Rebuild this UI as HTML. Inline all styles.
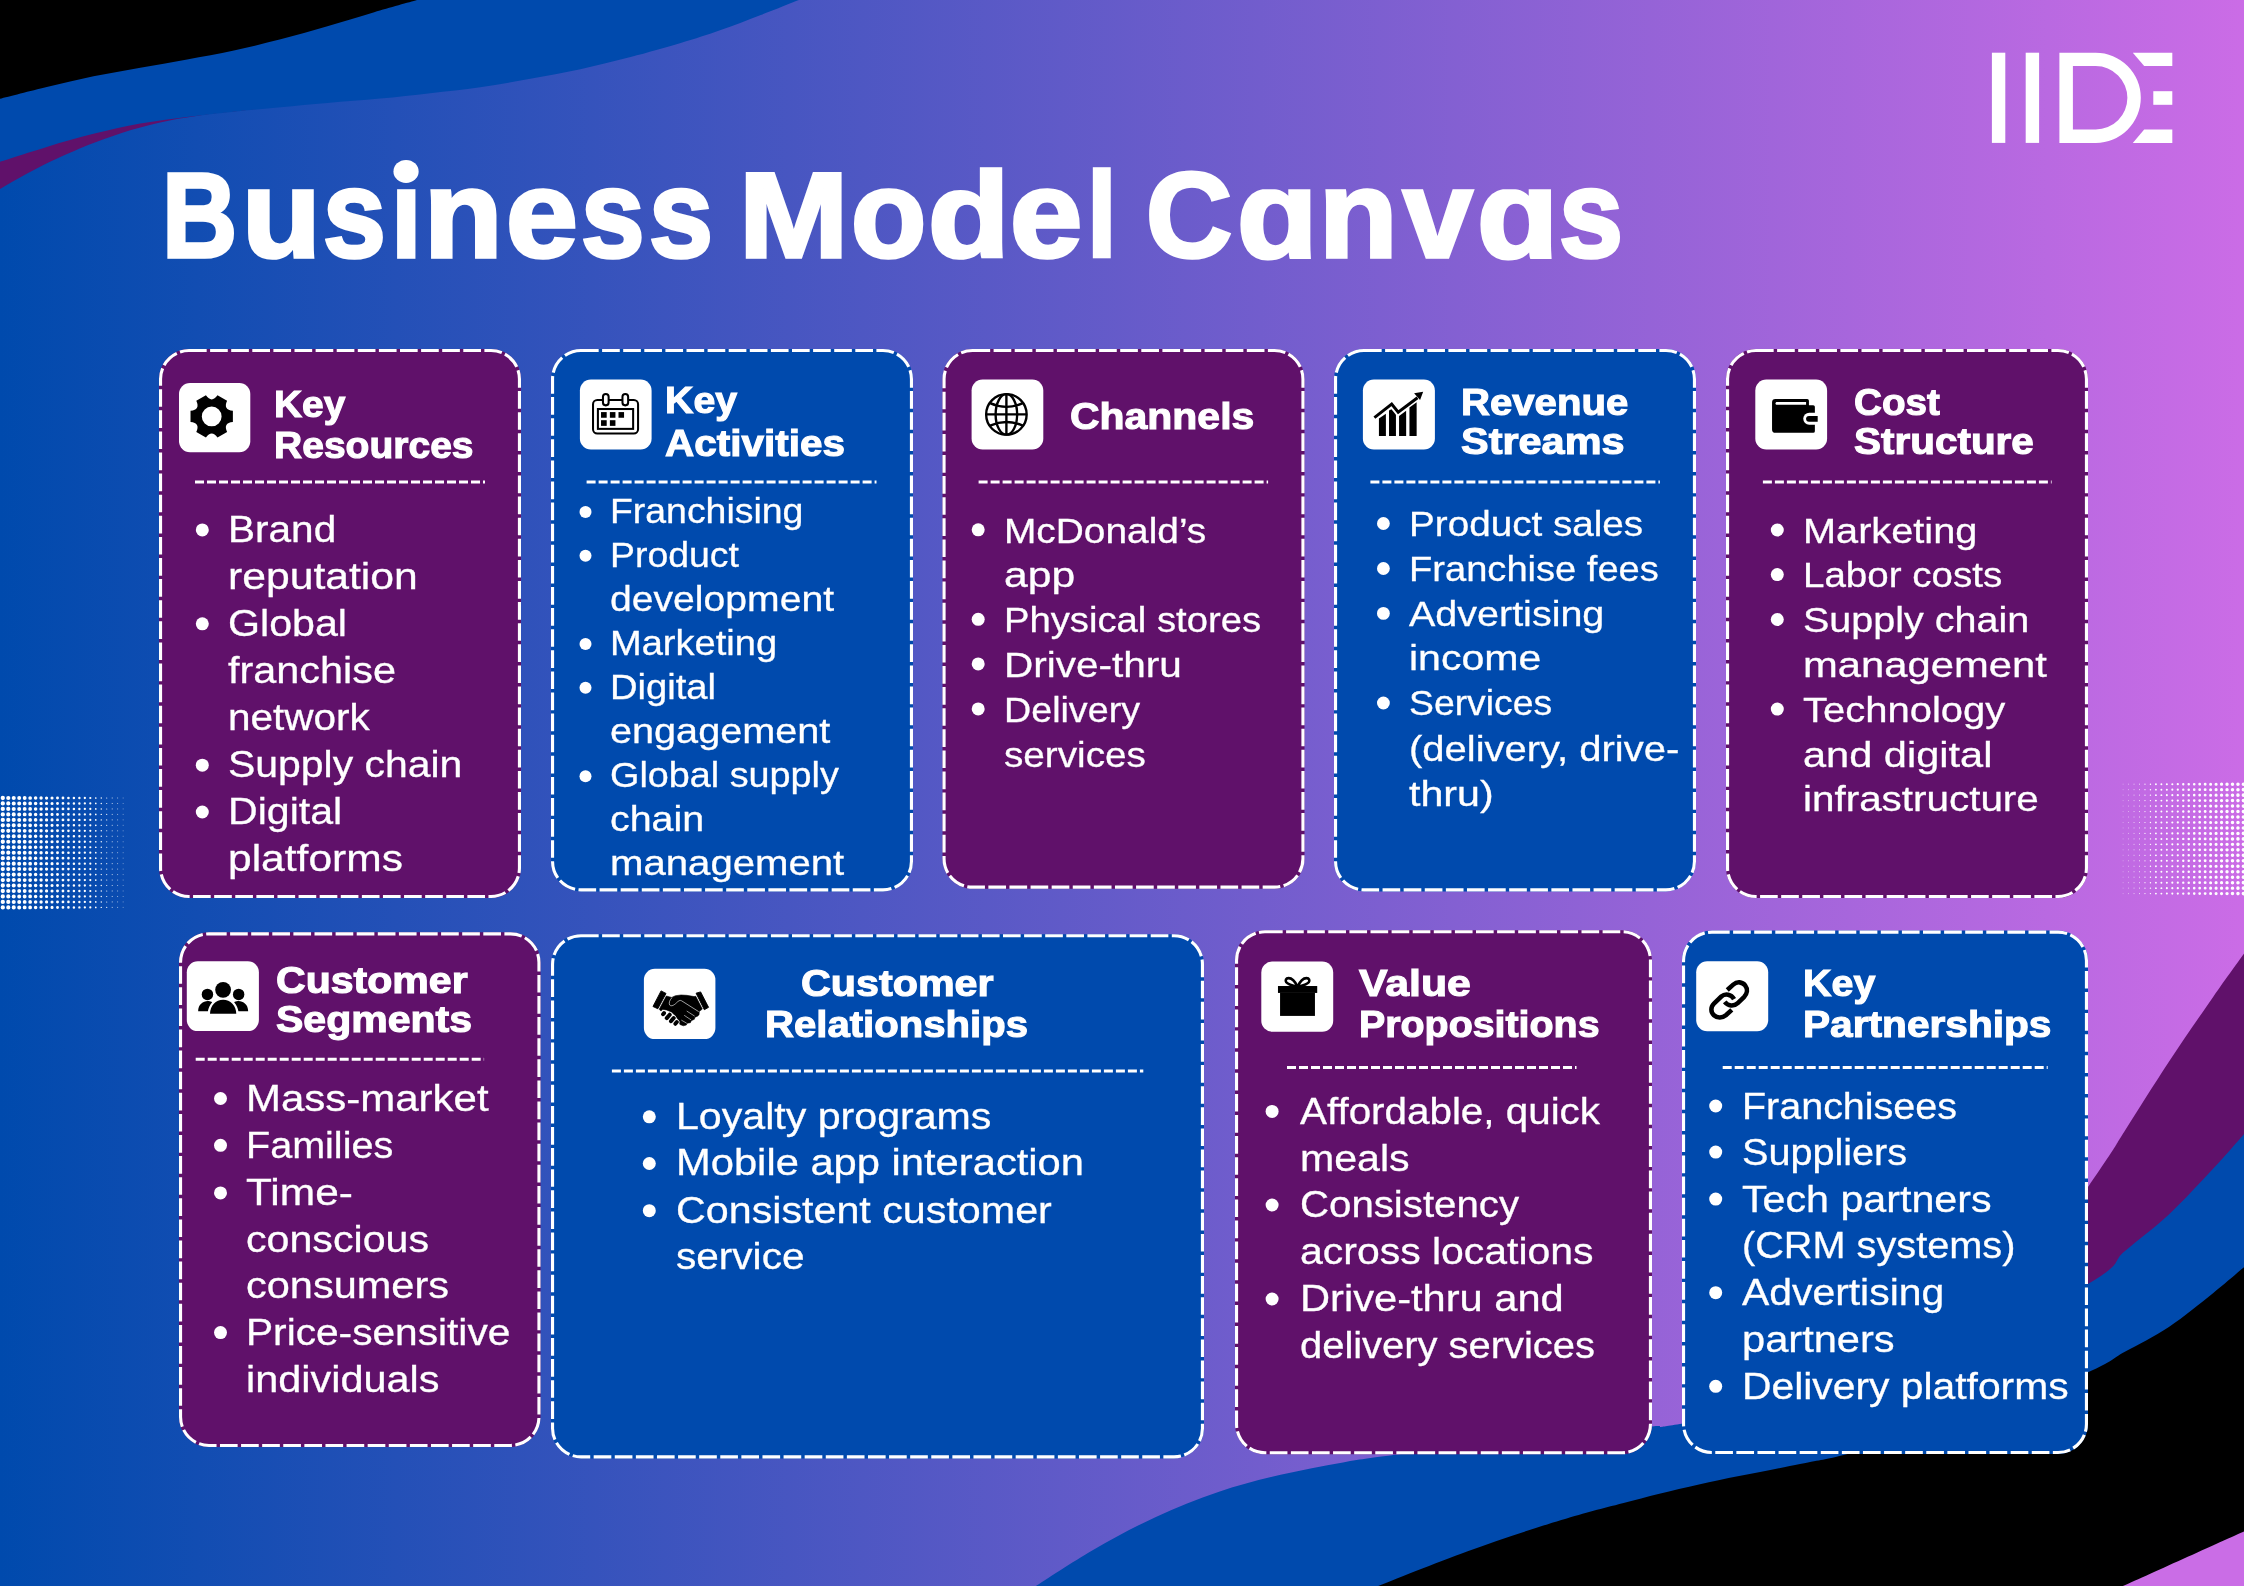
<!DOCTYPE html>
<html lang="en"><head><meta charset="utf-8"><title>Business Model Canvas</title>
<style>
html,body{margin:0;padding:0;background:#fff}
#page{width:2245px;height:1587px;position:relative;overflow:hidden;background:#fff;font-family:"Liberation Sans",sans-serif}
#g{position:absolute;left:0;top:0;display:block}
.t{position:absolute;white-space:nowrap;color:#fff;line-height:normal;transform-origin:0 0;font-weight:normal;margin:0;padding:0}
.t.b{font-weight:bold}
#txt{position:absolute;left:0;top:0;width:2245px;height:1587px;will-change:transform}
#ttl{position:absolute;left:165px;top:150px;margin:0;font-size:121px;line-height:1;white-space:nowrap;color:transparent;opacity:0}
</style></head><body>
<div id="page">
<svg id="g" width="2245" height="1587" viewBox="0 0 2245 1587">
<defs><linearGradient id="bg" x1="0" y1="0" x2="1" y2="0"><stop offset="0" stop-color="#004aad"/><stop offset="1" stop-color="#cb6ce6"/></linearGradient></defs>
<rect width="2245" height="1587" fill="url(#bg)"/>
<path d="M0,0 L260,108.5 C254.1,109.1 233.5,111.3 224.5,112.3 C215.5,113.3 215.2,113.1 205.8,114.5 C196.5,115.9 180.9,118.1 168.4,120.7 C155.9,123.3 143.5,126.3 131.0,130.0 C118.5,133.7 106.0,138.3 93.5,143.1 C81.0,147.9 67.0,154.0 56.1,159.0 C45.2,164.0 37.5,168.1 28.1,173.1 C18.8,178.1 4.7,186.3 0.0,189.0  L0,0 Z" fill="#60116a"/>
<path d="M0,0 L798.9,0 C792.5,2.5 773.8,10.0 760.8,15.0 C747.8,20.0 734.1,25.4 720.7,30.1 C707.4,34.8 695.7,38.6 680.7,43.1 C665.7,47.6 647.3,52.8 630.6,57.1 C613.9,61.5 597.1,65.6 580.4,69.2 C563.7,72.8 547.0,75.8 530.3,78.8 C513.6,81.8 496.9,84.8 480.2,87.2 C463.5,89.6 446.8,91.3 430.1,93.2 C413.4,95.1 397.1,97.0 380.0,98.6 C362.9,100.2 344.0,101.5 327.4,102.9 C310.8,104.3 296.2,105.7 280.6,107.2 C265.0,108.7 249.5,110.1 233.9,111.7 C218.3,113.3 202.7,114.9 187.1,116.9 C171.5,118.9 155.9,120.7 140.3,123.5 C124.7,126.3 109.1,129.9 93.5,133.8 C77.9,137.7 62.4,142.2 46.8,146.9 C31.2,151.6 7.8,159.3 0.0,161.8  L0,0 Z" fill="#004aad"/>
<path d="M0,0 L417,0 C409.9,2.0 389.1,7.8 374.2,12.2 C359.3,16.6 343.0,21.7 327.4,26.2 C311.8,30.7 296.2,35.2 280.6,39.3 C265.0,43.3 249.5,47.1 233.9,50.5 C218.3,53.9 202.7,56.6 187.1,59.5 C171.5,62.4 155.9,64.9 140.3,67.7 C124.7,70.5 109.1,73.1 93.5,76.3 C77.9,79.5 62.4,83.2 46.8,87.0 C31.2,90.8 7.8,96.8 0.0,98.8  L0,0 Z" fill="#000"/>
<path d="M1900,1460 C1931.3,1414.5 2050.6,1241.9 2088.0,1187.1 C2125.4,1132.3 2110.9,1152.3 2124.4,1131.4 C2137.9,1110.5 2154.1,1084.2 2168.9,1061.8 C2183.7,1039.3 2200.6,1015.0 2213.3,996.7 C2226.0,978.4 2239.7,959.6 2245.0,952.2  L2245,1587 L1900,1587 Z" fill="#60116a"/>
<path d="M1034.3,1587 C1044.2,1580.8 1073.2,1561.4 1093.5,1549.7 C1113.8,1538.0 1135.1,1526.5 1155.9,1516.9 C1176.7,1507.3 1197.5,1499.0 1218.3,1492.0 C1239.1,1485.0 1259.8,1479.7 1280.6,1474.8 C1301.4,1469.9 1322.2,1465.9 1343.0,1462.4 C1363.8,1458.9 1370.1,1458.1 1405.4,1453.6 C1440.7,1449.1 1513.5,1440.0 1554.6,1435.5 C1595.6,1431.0 1630.3,1428.5 1651.7,1426.5 C1673.1,1424.5 1641.5,1430.3 1682.9,1423.4 C1724.3,1416.5 1832.5,1408.2 1900.0,1385.0 C1967.5,1361.8 2050.6,1306.3 2088.0,1284.0 C2125.4,1261.7 2110.9,1263.0 2124.4,1251.4 C2137.9,1239.8 2154.1,1228.2 2168.9,1214.4 C2183.7,1200.6 2200.6,1182.1 2213.3,1168.5 C2226.0,1154.9 2239.7,1138.8 2245.0,1132.9  L2245,1587 Z" fill="#004aad"/>
<path d="M1375.7,1587 C1391.0,1581.0 1436.8,1562.4 1467.7,1551.2 C1498.6,1540.0 1535.3,1528.0 1561.3,1520.0 C1587.3,1512.0 1600.5,1508.9 1623.6,1502.9 C1646.7,1496.9 1670.6,1490.7 1700.0,1484.2 C1729.4,1477.7 1775.2,1469.2 1800.0,1464.1 C1824.8,1459.0 1820.3,1461.1 1848.6,1453.8 C1876.9,1446.5 1930.1,1433.6 1970.0,1420.0 C2009.9,1406.4 2062.3,1383.6 2088.0,1372.3 C2113.7,1361.0 2110.9,1359.7 2124.4,1352.1 C2137.9,1344.5 2154.1,1336.8 2168.9,1326.9 C2183.7,1317.0 2200.6,1303.0 2213.3,1292.9 C2226.0,1282.8 2239.7,1270.7 2245.0,1266.2  L2245,1587 Z" fill="#000"/>
<path d="M2121,1587 C2141.7,1577.7 2224.3,1540.3 2245.0,1531.0  L2245,1587 Z" fill="#ca6de6"/>
<g stroke="#fff" stroke-linecap="round" stroke-dasharray="0 5.47" fill="none"><path d="M2.8,798 v109.41" stroke-width="4.3"/><path d="M8.27,798 v109.41" stroke-width="4.2"/><path d="M13.74,798 v109.41" stroke-width="4.1"/><path d="M19.21,798 v109.41" stroke-width="4"/><path d="M24.68,798 v109.41" stroke-width="3.85"/><path d="M30.15,798 v109.41" stroke-width="3.7"/><path d="M35.62,798 v109.41" stroke-width="3.55"/><path d="M41.09,798 v109.41" stroke-width="3.4"/><path d="M46.56,798 v109.41" stroke-width="3.25"/><path d="M52.03,798 v109.41" stroke-width="3.1"/><path d="M57.5,798 v109.41" stroke-width="2.95"/><path d="M62.97,798 v109.41" stroke-width="2.8"/><path d="M68.44,798 v109.41" stroke-width="2.65"/><path d="M73.91,798 v109.41" stroke-width="2.5"/><path d="M79.38,798 v109.41" stroke-width="2.4"/><path d="M84.85,798 v109.41" stroke-width="2.3"/><path d="M90.32,798 v109.41" stroke-width="2.2"/><path d="M95.79,798 v109.41" stroke-width="1.7"/><path d="M101.26,798 v109.41" stroke-width="1.4"/><path d="M106.73,798 v109.41" stroke-width="1.1"/><path d="M112.2,798 v109.41" stroke-width="0.9"/><path d="M117.67,798 v109.41" stroke-width="0.7"/><path d="M123.14,798 v109.41" stroke-width="0.5"/></g>
<g stroke="#fff" stroke-linecap="round" stroke-dasharray="0 5.47" fill="none"><path d="M2123.1,784.2 v109.41" stroke-width="0.42"/><path d="M2128.57,784.2 v109.41" stroke-width="0.59"/><path d="M2134.04,784.2 v109.41" stroke-width="0.77"/><path d="M2139.51,784.2 v109.41" stroke-width="0.94"/><path d="M2144.98,784.2 v109.41" stroke-width="1.19"/><path d="M2150.45,784.2 v109.41" stroke-width="1.44"/><path d="M2155.92,784.2 v109.41" stroke-width="1.87"/><path d="M2161.39,784.2 v109.41" stroke-width="1.95"/><path d="M2166.86,784.2 v109.41" stroke-width="2.04"/><path d="M2172.33,784.2 v109.41" stroke-width="2.12"/><path d="M2177.8,784.2 v109.41" stroke-width="2.25"/><path d="M2183.27,784.2 v109.41" stroke-width="2.38"/><path d="M2188.74,784.2 v109.41" stroke-width="2.51"/><path d="M2194.21,784.2 v109.41" stroke-width="2.63"/><path d="M2199.68,784.2 v109.41" stroke-width="2.76"/><path d="M2205.15,784.2 v109.41" stroke-width="2.89"/><path d="M2210.62,784.2 v109.41" stroke-width="3.02"/><path d="M2216.09,784.2 v109.41" stroke-width="3.15"/><path d="M2221.56,784.2 v109.41" stroke-width="3.27"/><path d="M2227.03,784.2 v109.41" stroke-width="3.4"/><path d="M2232.5,784.2 v109.41" stroke-width="3.48"/><path d="M2237.97,784.2 v109.41" stroke-width="3.57"/><path d="M2243.44,784.2 v109.41" stroke-width="3.65"/></g>
<g fill="#fff"><ellipse cx="406.05" cy="171.4" rx="12.6" ry="11.5"/><rect x="1991.9" y="52.7" width="13.4" height="90.2"/><rect x="2025.7" y="52.7" width="13.4" height="90.2"/><path fill-rule="evenodd" d="M2059.4,52.7 H2095.7 A45.1,45.1 0 0 1 2095.7,142.9 H2059.4 Z M2072.9,66.1 V129.5 H2095.7 A31.7,31.7 0 0 0 2095.7,66.1 Z"/><path d="M2132.8,52.7 H2172.3 V66.1 H2144.2 Z"/><rect x="2153.3" y="91.2" width="19" height="13.6"/><path d="M2144.2,129.6 H2172.3 V142.9 H2132.8 Z"/></g>
<rect x="159" y="349" width="362" height="549" rx="30" fill="#60116a"/>
<rect x="160.55" y="350.55" width="358.9" height="545.9" rx="28.45" fill="none" stroke="#fff" stroke-width="3.1" stroke-dasharray="17.67 3.43" stroke-dashoffset="0"/>
<rect x="179" y="383" width="71.3" height="69.3" rx="11" fill="#fff"/>
<path d="M195,482 H485" stroke="#fff" stroke-width="3" stroke-dasharray="9 3" fill="none"/>
<circle cx="202.3" cy="529.9" r="6.5" fill="#fff"/>
<circle cx="202.3" cy="623.8" r="6.5" fill="#fff"/>
<circle cx="202.3" cy="765.2" r="6.5" fill="#fff"/>
<circle cx="202.3" cy="812" r="6.5" fill="#fff"/>
<rect x="551" y="349" width="362" height="542.4" rx="30" fill="#004aad"/>
<rect x="552.55" y="350.55" width="358.9" height="539.3" rx="28.45" fill="none" stroke="#fff" stroke-width="3.1" stroke-dasharray="17.67 3.43" stroke-dashoffset="0"/>
<rect x="579.9" y="379.6" width="71.7" height="69.8" rx="11" fill="#fff"/>
<path d="M586.6,482 H876.5" stroke="#fff" stroke-width="3" stroke-dasharray="9 3" fill="none"/>
<circle cx="585.5" cy="511.9" r="6" fill="#fff"/>
<circle cx="585.5" cy="555.8" r="6" fill="#fff"/>
<circle cx="585.5" cy="643.9" r="6" fill="#fff"/>
<circle cx="585.5" cy="687.7" r="6" fill="#fff"/>
<circle cx="585.5" cy="776.2" r="6" fill="#fff"/>
<rect x="942.5" y="349" width="362" height="539.7" rx="30" fill="#60116a"/>
<rect x="944.05" y="350.55" width="358.9" height="536.6" rx="28.45" fill="none" stroke="#fff" stroke-width="3.1" stroke-dasharray="17.67 3.43" stroke-dashoffset="0"/>
<rect x="971.6" y="379.6" width="71.7" height="69.8" rx="11" fill="#fff"/>
<path d="M978.6,482 H1268.1" stroke="#fff" stroke-width="3" stroke-dasharray="9 3" fill="none"/>
<circle cx="978.2" cy="529.8" r="6.5" fill="#fff"/>
<circle cx="978.2" cy="619.3" r="6.5" fill="#fff"/>
<circle cx="978.2" cy="663.9" r="6.5" fill="#fff"/>
<circle cx="978.2" cy="708.9" r="6.5" fill="#fff"/>
<rect x="1334" y="349" width="362" height="542.4" rx="30" fill="#004aad"/>
<rect x="1335.55" y="350.55" width="358.9" height="539.3" rx="28.45" fill="none" stroke="#fff" stroke-width="3.1" stroke-dasharray="17.67 3.43" stroke-dashoffset="0"/>
<rect x="1362.9" y="379.6" width="72" height="69.8" rx="11" fill="#fff"/>
<path d="M1370.4,482 H1659.9" stroke="#fff" stroke-width="3" stroke-dasharray="9 3" fill="none"/>
<circle cx="1383.4" cy="523.5" r="6.4" fill="#fff"/>
<circle cx="1383.4" cy="568.5" r="6.4" fill="#fff"/>
<circle cx="1383.4" cy="613.4" r="6.4" fill="#fff"/>
<circle cx="1383.4" cy="703" r="6.4" fill="#fff"/>
<rect x="1726" y="349" width="362" height="549" rx="30" fill="#60116a"/>
<rect x="1727.55" y="350.55" width="358.9" height="545.9" rx="28.45" fill="none" stroke="#fff" stroke-width="3.1" stroke-dasharray="17.67 3.43" stroke-dashoffset="0"/>
<rect x="1755.3" y="379.6" width="71.8" height="69.8" rx="11" fill="#fff"/>
<path d="M1762.9,482 H2051.6" stroke="#fff" stroke-width="3" stroke-dasharray="9 3" fill="none"/>
<circle cx="1777.3" cy="530" r="6.5" fill="#fff"/>
<circle cx="1777.3" cy="574.6" r="6.5" fill="#fff"/>
<circle cx="1777.3" cy="619.5" r="6.5" fill="#fff"/>
<circle cx="1777.3" cy="709.1" r="6.5" fill="#fff"/>
<rect x="179" y="932.3" width="361.5" height="514.7" rx="30" fill="#60116a"/>
<rect x="180.55" y="933.85" width="358.4" height="511.6" rx="28.45" fill="none" stroke="#fff" stroke-width="3.1" stroke-dasharray="17.67 3.43" stroke-dashoffset="0"/>
<rect x="186.8" y="961.2" width="72.1" height="69.9" rx="11" fill="#fff"/>
<path d="M195.7,1059.2 H484.1" stroke="#fff" stroke-width="3" stroke-dasharray="9 3" fill="none"/>
<circle cx="220.5" cy="1098.5" r="6.5" fill="#fff"/>
<circle cx="220.5" cy="1145.3" r="6.5" fill="#fff"/>
<circle cx="220.5" cy="1192.9" r="6.5" fill="#fff"/>
<circle cx="220.5" cy="1332.6" r="6.5" fill="#fff"/>
<rect x="551" y="934.2" width="653" height="524.2" rx="30" fill="#004aad"/>
<rect x="552.55" y="935.75" width="649.9" height="521.1" rx="28.45" fill="none" stroke="#fff" stroke-width="3.1" stroke-dasharray="17.67 3.43" stroke-dashoffset="0"/>
<rect x="643.9" y="968.8" width="71.5" height="70.3" rx="11" fill="#fff"/>
<path d="M611.9,1071.1 H1143.3" stroke="#fff" stroke-width="3" stroke-dasharray="9 3" fill="none"/>
<circle cx="649.3" cy="1116.8" r="6.5" fill="#fff"/>
<circle cx="649.3" cy="1163.5" r="6.5" fill="#fff"/>
<circle cx="649.3" cy="1210.7" r="6.5" fill="#fff"/>
<rect x="1235" y="930.2" width="417" height="524.1" rx="30" fill="#60116a"/>
<rect x="1236.55" y="931.75" width="413.9" height="521" rx="28.45" fill="none" stroke="#fff" stroke-width="3.1" stroke-dasharray="17.67 3.43" stroke-dashoffset="0"/>
<rect x="1261.3" y="961.6" width="71.9" height="70.1" rx="11" fill="#fff"/>
<path d="M1287,1067.4 H1576.5" stroke="#fff" stroke-width="3" stroke-dasharray="9 3" fill="none"/>
<circle cx="1272.1" cy="1111.4" r="6.5" fill="#fff"/>
<circle cx="1272.1" cy="1205" r="6.5" fill="#fff"/>
<circle cx="1272.1" cy="1299" r="6.5" fill="#fff"/>
<rect x="1682" y="930.6" width="406" height="523.5" rx="30" fill="#004aad"/>
<rect x="1683.55" y="932.15" width="402.9" height="520.4" rx="28.45" fill="none" stroke="#fff" stroke-width="3.1" stroke-dasharray="17.67 3.43" stroke-dashoffset="0"/>
<rect x="1696.2" y="961.3" width="72" height="69.9" rx="11" fill="#fff"/>
<path d="M1722.7,1067.4 H2047.7" stroke="#fff" stroke-width="3" stroke-dasharray="9 3" fill="none"/>
<circle cx="1715.7" cy="1106" r="6.5" fill="#fff"/>
<circle cx="1715.7" cy="1152.1" r="6.5" fill="#fff"/>
<circle cx="1715.7" cy="1199.1" r="6.5" fill="#fff"/>
<circle cx="1715.7" cy="1292.7" r="6.5" fill="#fff"/>
<circle cx="1715.7" cy="1386.3" r="6.5" fill="#fff"/>
<path fill-rule="evenodd" d="M232.88,410.84 L232.88,421.96 Q222.87,422.85 227.10,431.97 L217.48,437.52 Q211.70,429.30 205.92,437.52 L196.30,431.97 Q200.53,422.85 190.52,421.96 L190.52,410.84 Q200.53,409.95 196.30,400.83 L205.92,395.28 Q211.70,403.50 217.48,395.28 L227.10,400.83 Q222.87,409.95 232.88,410.84 Z M201.80,416.40 a9.90,9.90 0 1 0 19.80,0 a9.90,9.90 0 1 0 -19.80,0 Z" fill="#000"/><g transform="translate(570,370) scale(0.056721)" fill="none" stroke="#000" stroke-width="36"><rect x="406" y="528" width="794" height="590" rx="75"/><rect x="492" y="688" width="621" height="350"/><rect x="581" y="422" width="100" height="202" rx="50" fill="#fff"/><rect x="925" y="422" width="100" height="202" rx="50" fill="#fff"/><g fill="#000" stroke="none"><rect x="547" y="742" width="100" height="100"/><rect x="703" y="742" width="98" height="100"/><rect x="855" y="742" width="98" height="100"/><rect x="547" y="885" width="100" height="100"/><rect x="703" y="885" width="98" height="100"/></g></g><g transform="translate(960,370) scale(0.056721)" fill="none" stroke="#000" stroke-width="42"><circle cx="818" cy="783" r="357"/><ellipse cx="818" cy="783" rx="190" ry="357"/><path d="M818,426 V1140 M461,783 H1175"/><path d="M530,585 Q818,715 1108,585"/><path d="M530,980 Q818,855 1108,980"/></g><g transform="translate(1350,370) scale(0.056721)" fill="#000" stroke="none"><path d="M510,855 L633,770 V1162 H510 Z"/><path d="M688,715 L730,690 L810,790 V1162 H688 Z"/><path d="M865,810 L990,720 V1162 H865 Z"/><path d="M1048,660 L1175,570 V1162 H1048 Z"/><path d="M430,840 L735,600 L850,745 L1190,490" fill="none" stroke="#000" stroke-width="52" stroke-linejoin="miter"/><path d="M1290,385 L1130,410 L1235,530 Z"/></g><g transform="translate(1740,370) scale(0.056721)" fill="#000" stroke="none"><path d="M625,510 H1185 Q1215,510 1215,540 V620 H1290 Q1320,620 1320,650 V1078 Q1320,1108 1290,1108 H625 Q565,1108 565,1048 V570 Q565,510 625,510 Z"/><path d="M640,565 H1165 V612 H640 Q610,590 640,565 Z" fill="#fff"/><path d="M1330,755 H1220 A105,105 0 0 0 1220,965 H1330 Z" fill="#fff"/><path d="M1370,810 H1216 A51,51 0 0 0 1216,912 H1370 Z"/></g><g transform="translate(175,950) scale(0.056721)" fill="#000" stroke="none"><circle cx="572" cy="783" r="101"/><circle cx="1122" cy="783" r="101"/><path d="M408,1080 C408,960 500,895 590,900 C620,902 640,910 655,920 C610,970 590,1030 580,1080 Z"/><path d="M1290,1080 C1290,960 1198,895 1108,900 C1078,902 1058,910 1043,920 C1088,970 1108,1030 1118,1080 Z"/><circle cx="848" cy="703" r="139" stroke="#fff" stroke-width="40" paint-order="stroke"/><path d="M617,1125 C617,980 720,875 848,875 C976,875 1080,980 1080,1125 Z" stroke="#fff" stroke-width="40" paint-order="stroke"/><rect x="580" y="1128" width="540" height="40" fill="#fff"/></g><g transform="translate(630,958) scale(0.056721)" fill="#000" stroke="none"><path d="M548,580 L635,625 L490,895 L405,855 Z" stroke="#000" stroke-width="16" stroke-linejoin="round"/><path d="M1165,620 L1245,598 L1385,870 L1310,912 Z" stroke="#000" stroke-width="16" stroke-linejoin="round"/><path d="M640,670 L735,695 L800,665 L900,652 L1000,658 L1130,680 L1160,675 L1275,900 L1220,945 L1218,1000 L1190,1025 L1145,1045 L1135,1080 L1080,1105 L1065,1140 L1005,1150 L995,1180 L940,1195 L880,1172 L865,1110 L800,1020 L730,950 L640,915 L575,910 L545,935 L515,905 Z" stroke="#000" stroke-width="10" stroke-linejoin="round"/><path d="M740,700 C700,740 680,790 700,830 C730,860 780,830 820,790 C850,760 880,735 910,755 L1210,945" fill="none" stroke="#fff" stroke-width="11"/><path d="M1000,935 L1140,1025 M955,1010 L1075,1090 M905,1095 L1000,1150" fill="none" stroke="#fff" stroke-width="10"/><g fill="none" stroke-linecap="round"><path d="M583,992 L600,972 M648,1060 L700,1000 M722,1115 L770,1058 M800,1160 L825,1130" stroke="#fff" stroke-width="92"/><path d="M583,992 L600,972 M648,1060 L700,1000 M722,1115 L770,1058 M800,1160 L825,1130" stroke="#000" stroke-width="70"/></g></g><g transform="translate(1250,950) scale(0.056721)" fill="#000" stroke="none"><rect x="493" y="635" width="692" height="122"/><rect x="530" y="757" width="615" height="405"/><path d="M838,650 C790,540 740,495 680,495 C630,495 620,540 640,570 C670,610 750,630 838,650 Z M838,650 C886,540 936,495 996,495 C1046,495 1056,540 1036,570 C1006,610 926,630 838,650 Z" fill="none" stroke="#000" stroke-width="46" stroke-linejoin="round"/></g><g transform="translate(1685,950) scale(0.056721)" fill="none" stroke="#000" stroke-width="80"><path d="M745,705 L850,610 C920,550 1010,560 1060,625 C1110,690 1100,770 1040,830 L930,935 C860,1000 760,990 700,915"/><path d="M865,865 C815,780 710,760 640,820 L510,945 C450,1005 450,1095 510,1150 C570,1205 660,1200 720,1150 L825,1055"/></g>
<rect x="2244" y="0" width="1" height="1587" fill="#fff"/>
<rect x="0" y="1586" width="2245" height="1" fill="#fff"/>
</svg>
<h1 id="ttl">Business Model Canvas</h1>
<div id="txt">
<div class="t b" style="left:162.19px;top:145.2px;font-size:121px;transform:scaleX(0.8608);-webkit-text-stroke:3.6px #fff">B</div>
<div class="t b" style="left:241.95px;top:145.2px;font-size:121px;transform-origin:0 112px;transform:scale(1.0661,1.0300);-webkit-text-stroke:3.6px #fff">u</div>
<div class="t b" style="left:323.27px;top:145.2px;font-size:121px;transform-origin:0 112px;transform:scale(0.9333,1.0300);-webkit-text-stroke:3.6px #fff">s</div>
<div class="t b" style="left:390.66px;top:145.2px;font-size:121px;transform-origin:0 112px;transform:scale(0.9045,1.0300);-webkit-text-stroke:3.6px #fff">ı</div>
<div class="t b" style="left:424.27px;top:145.2px;font-size:121px;transform-origin:0 112px;transform:scale(1.0620,1.0300);-webkit-text-stroke:3.6px #fff">n</div>
<div class="t b" style="left:505.86px;top:145.2px;font-size:121px;transform-origin:0 112px;transform:scale(1.0678,1.0300);-webkit-text-stroke:3.6px #fff">e</div>
<div class="t b" style="left:581.33px;top:145.2px;font-size:121px;transform-origin:0 112px;transform:scale(0.9452,1.0300);-webkit-text-stroke:3.6px #fff">s</div>
<div class="t b" style="left:648.65px;top:145.2px;font-size:121px;transform-origin:0 112px;transform:scale(0.9521,1.0300);-webkit-text-stroke:3.6px #fff">s</div>
<div class="t b" style="left:739.05px;top:145.2px;font-size:121px;transform:scaleX(1.0849);-webkit-text-stroke:3.6px #fff">M</div>
<div class="t b" style="left:851.45px;top:145.2px;font-size:121px;transform-origin:0 112px;transform:scale(1.0178,1.0300);-webkit-text-stroke:3.6px #fff">o</div>
<div class="t b" style="left:928.33px;top:145.2px;font-size:121px;transform:scaleX(1.1027);-webkit-text-stroke:3.6px #fff">d</div>
<div class="t b" style="left:1010.44px;top:145.2px;font-size:121px;transform-origin:0 112px;transform:scale(1.0744,1.0300);-webkit-text-stroke:3.6px #fff">e</div>
<div class="t b" style="left:1087.12px;top:145.2px;font-size:121px;transform:scaleX(0.8833);-webkit-text-stroke:3.6px #fff">l</div>
<div class="t b" style="left:1145.67px;top:145.2px;font-size:121px;transform:scaleX(0.9853);-webkit-text-stroke:3.6px #fff">C</div>
<div class="t b" style="left:1237.28px;top:145.2px;font-size:121px;transform-origin:0 112px;transform:scale(1.0899,1.0300);-webkit-text-stroke:3.6px #fff;clip-path:inset(46.31px -10px -10px -10px)">d</div>
<div class="t b" style="left:1319.16px;top:145.2px;font-size:121px;transform-origin:0 112px;transform:scale(1.0628,1.0300);-webkit-text-stroke:3.6px #fff">n</div>
<div class="t b" style="left:1403.1px;top:145.2px;font-size:121px;transform-origin:0 112px;transform:scale(1.0329,1.0300);-webkit-text-stroke:3.6px #fff">v</div>
<div class="t b" style="left:1476.54px;top:145.2px;font-size:121px;transform-origin:0 112px;transform:scale(1.0995,1.0300);-webkit-text-stroke:3.6px #fff;clip-path:inset(46.31px -10px -10px -10px)">d</div>
<div class="t b" style="left:1559.3px;top:145.2px;font-size:121px;transform-origin:0 112px;transform:scale(0.9521,1.0300);-webkit-text-stroke:3.6px #fff">s</div>
<div class="t b" style="left:273.72px;top:383.45px;font-size:37.2px;transform:scaleX(1.0461);-webkit-text-stroke:1.1px #fff">Key</div>
<div class="t b" style="left:273.72px;top:423.65px;font-size:37.2px;transform:scaleX(1.0493);-webkit-text-stroke:1.1px #fff">Resources</div>
<div class="t" style="left:228.38px;top:508.95px;font-size:36.7px;transform:scaleX(1.1053);-webkit-text-stroke:0.3px #fff">Brand</div>
<div class="t" style="left:228.38px;top:556.45px;font-size:36.7px;transform:scaleX(1.1632);-webkit-text-stroke:0.3px #fff">reputation</div>
<div class="t" style="left:228.38px;top:602.85px;font-size:36.7px;transform:scaleX(1.1216);-webkit-text-stroke:0.3px #fff">Global</div>
<div class="t" style="left:228.38px;top:650.35px;font-size:36.7px;transform:scaleX(1.1278);-webkit-text-stroke:0.3px #fff">franchise</div>
<div class="t" style="left:228.38px;top:697.15px;font-size:36.7px;transform:scaleX(1.1038);-webkit-text-stroke:0.3px #fff">network</div>
<div class="t" style="left:228.38px;top:744.25px;font-size:36.7px;transform:scaleX(1.1153);-webkit-text-stroke:0.3px #fff">Supply chain</div>
<div class="t" style="left:228.38px;top:791.05px;font-size:36.7px;transform:scaleX(1.1196);-webkit-text-stroke:0.3px #fff">Digital</div>
<div class="t" style="left:228.38px;top:837.85px;font-size:36.7px;transform:scaleX(1.1595);-webkit-text-stroke:0.3px #fff">platforms</div>
<div class="t b" style="left:665.49px;top:379.05px;font-size:37.2px;transform:scaleX(1.0566);-webkit-text-stroke:1.1px #fff">Key</div>
<div class="t b" style="left:665.49px;top:421.85px;font-size:37.2px;transform:scaleX(1.0882);-webkit-text-stroke:1.1px #fff">Activities</div>
<div class="t" style="left:609.88px;top:491.85px;font-size:34.3px;transform:scaleX(1.0907);-webkit-text-stroke:0.3px #fff">Franchising</div>
<div class="t" style="left:609.88px;top:535.75px;font-size:34.3px;transform:scaleX(1.0908);-webkit-text-stroke:0.3px #fff">Product</div>
<div class="t" style="left:609.88px;top:579.95px;font-size:34.3px;transform:scaleX(1.1407);-webkit-text-stroke:0.3px #fff">development</div>
<div class="t" style="left:609.88px;top:623.85px;font-size:34.3px;transform:scaleX(1.1096);-webkit-text-stroke:0.3px #fff">Marketing</div>
<div class="t" style="left:609.88px;top:667.65px;font-size:34.3px;transform:scaleX(1.1131);-webkit-text-stroke:0.3px #fff">Digital</div>
<div class="t" style="left:609.88px;top:711.55px;font-size:34.3px;transform:scaleX(1.1554);-webkit-text-stroke:0.3px #fff">engagement</div>
<div class="t" style="left:609.88px;top:756.15px;font-size:34.3px;transform:scaleX(1.1013);-webkit-text-stroke:0.3px #fff">Global supply</div>
<div class="t" style="left:609.88px;top:799.95px;font-size:34.3px;transform:scaleX(1.1474);-webkit-text-stroke:0.3px #fff">chain</div>
<div class="t" style="left:609.88px;top:843.85px;font-size:34.3px;transform:scaleX(1.1700);-webkit-text-stroke:0.3px #fff">management</div>
<div class="t b" style="left:1070.37px;top:395.15px;font-size:37.2px;transform:scaleX(1.1010);-webkit-text-stroke:1.1px #fff">Channels</div>
<div class="t" style="left:1003.71px;top:510.85px;font-size:34.9px;transform:scaleX(1.1137);-webkit-text-stroke:0.3px #fff">McDonald’s</div>
<div class="t" style="left:1003.71px;top:554.65px;font-size:34.9px;transform:scaleX(1.2239);-webkit-text-stroke:0.3px #fff">app</div>
<div class="t" style="left:1003.71px;top:600.35px;font-size:34.9px;transform:scaleX(1.0956);-webkit-text-stroke:0.3px #fff">Physical stores</div>
<div class="t" style="left:1003.71px;top:644.95px;font-size:34.9px;transform:scaleX(1.1607);-webkit-text-stroke:0.3px #fff">Drive-thru</div>
<div class="t" style="left:1003.71px;top:689.95px;font-size:34.9px;transform:scaleX(1.0792);-webkit-text-stroke:0.3px #fff">Delivery</div>
<div class="t" style="left:1003.71px;top:734.55px;font-size:34.9px;transform:scaleX(1.1090);-webkit-text-stroke:0.3px #fff">services</div>
<div class="t b" style="left:1460.94px;top:380.55px;font-size:37.2px;transform:scaleX(1.0789);-webkit-text-stroke:1.1px #fff">Revenue</div>
<div class="t b" style="left:1460.94px;top:420.05px;font-size:37.2px;transform:scaleX(1.1142);-webkit-text-stroke:1.1px #fff">Streams</div>
<div class="t" style="left:1409.23px;top:503.85px;font-size:35.1px;transform:scaleX(1.1019);-webkit-text-stroke:0.3px #fff">Product sales</div>
<div class="t" style="left:1409.23px;top:548.85px;font-size:35.1px;transform:scaleX(1.0860);-webkit-text-stroke:0.3px #fff">Franchise fees</div>
<div class="t" style="left:1409.23px;top:593.75px;font-size:35.1px;transform:scaleX(1.1256);-webkit-text-stroke:0.3px #fff">Advertising</div>
<div class="t" style="left:1409.23px;top:638.35px;font-size:35.1px;transform:scaleX(1.1700);-webkit-text-stroke:0.3px #fff">income</div>
<div class="t" style="left:1409.23px;top:683.35px;font-size:35.1px;transform:scaleX(1.0639);-webkit-text-stroke:0.3px #fff">Services</div>
<div class="t" style="left:1409.23px;top:728.65px;font-size:35.1px;transform:scaleX(1.1393);-webkit-text-stroke:0.3px #fff">(delivery, drive-</div>
<div class="t" style="left:1409.23px;top:773.55px;font-size:35.1px;transform:scaleX(1.1729);-webkit-text-stroke:0.3px #fff">thru)</div>
<div class="t b" style="left:1853.94px;top:380.55px;font-size:37.2px;transform:scaleX(1.0391);-webkit-text-stroke:1.1px #fff">Cost</div>
<div class="t b" style="left:1853.94px;top:420.05px;font-size:37.2px;transform:scaleX(1.0880);-webkit-text-stroke:1.1px #fff">Structure</div>
<div class="t" style="left:1802.75px;top:510.85px;font-size:34.9px;transform:scaleX(1.1377);-webkit-text-stroke:0.3px #fff">Marketing</div>
<div class="t" style="left:1802.75px;top:555.45px;font-size:34.9px;transform:scaleX(1.1042);-webkit-text-stroke:0.3px #fff">Labor costs</div>
<div class="t" style="left:1802.75px;top:600.35px;font-size:34.9px;transform:scaleX(1.1320);-webkit-text-stroke:0.3px #fff">Supply chain</div>
<div class="t" style="left:1802.75px;top:644.95px;font-size:34.9px;transform:scaleX(1.1976);-webkit-text-stroke:0.3px #fff">management</div>
<div class="t" style="left:1802.75px;top:689.95px;font-size:34.9px;transform:scaleX(1.1464);-webkit-text-stroke:0.3px #fff">Technology</div>
<div class="t" style="left:1802.75px;top:734.55px;font-size:34.9px;transform:scaleX(1.1906);-webkit-text-stroke:0.3px #fff">and digital</div>
<div class="t" style="left:1802.75px;top:779.45px;font-size:34.9px;transform:scaleX(1.1580);-webkit-text-stroke:0.3px #fff">infrastructure</div>
<div class="t b" style="left:276.17px;top:959.15px;font-size:37.2px;transform:scaleX(1.1044);-webkit-text-stroke:1.1px #fff">Customer</div>
<div class="t b" style="left:276.17px;top:998.25px;font-size:37.2px;transform:scaleX(1.1033);-webkit-text-stroke:1.1px #fff">Segments</div>
<div class="t" style="left:246.47px;top:1077.85px;font-size:36.5px;transform:scaleX(1.1500);-webkit-text-stroke:0.3px #fff">Mass-market</div>
<div class="t" style="left:246.47px;top:1124.65px;font-size:36.5px;transform:scaleX(1.0834);-webkit-text-stroke:0.3px #fff">Families</div>
<div class="t" style="left:246.47px;top:1172.25px;font-size:36.5px;transform:scaleX(1.1632);-webkit-text-stroke:0.3px #fff">Time-</div>
<div class="t" style="left:246.47px;top:1218.55px;font-size:36.5px;transform:scaleX(1.1273);-webkit-text-stroke:0.3px #fff">conscious</div>
<div class="t" style="left:246.47px;top:1265.25px;font-size:36.5px;transform:scaleX(1.1371);-webkit-text-stroke:0.3px #fff">consumers</div>
<div class="t" style="left:246.47px;top:1311.95px;font-size:36.5px;transform:scaleX(1.1138);-webkit-text-stroke:0.3px #fff">Price-sensitive</div>
<div class="t" style="left:246.47px;top:1359.15px;font-size:36.5px;transform:scaleX(1.1352);-webkit-text-stroke:0.3px #fff">individuals</div>
<div class="t b" style="left:801.46px;top:962.45px;font-size:37.2px;transform:scaleX(1.1097);-webkit-text-stroke:1.1px #fff">Customer</div>
<div class="t b" style="left:765.44px;top:1003.45px;font-size:37.2px;transform:scaleX(1.0784);-webkit-text-stroke:1.1px #fff">Relationships</div>
<div class="t" style="left:675.54px;top:1095.75px;font-size:36.5px;transform:scaleX(1.1266);-webkit-text-stroke:0.3px #fff">Loyalty programs</div>
<div class="t" style="left:675.54px;top:1142.45px;font-size:36.5px;transform:scaleX(1.1424);-webkit-text-stroke:0.3px #fff">Mobile app interaction</div>
<div class="t" style="left:675.54px;top:1189.65px;font-size:36.5px;transform:scaleX(1.1296);-webkit-text-stroke:0.3px #fff">Consistent customer</div>
<div class="t" style="left:675.54px;top:1236.35px;font-size:36.5px;transform:scaleX(1.1111);-webkit-text-stroke:0.3px #fff">service</div>
<div class="t b" style="left:1359.45px;top:961.95px;font-size:37.2px;transform:scaleX(1.1509);-webkit-text-stroke:1.1px #fff">Value</div>
<div class="t b" style="left:1359.45px;top:1002.55px;font-size:37.2px;transform:scaleX(1.0583);-webkit-text-stroke:1.1px #fff">Propositions</div>
<div class="t" style="left:1300.15px;top:1090.75px;font-size:36.5px;transform:scaleX(1.1060);-webkit-text-stroke:0.3px #fff">Affordable, quick</div>
<div class="t" style="left:1300.15px;top:1137.75px;font-size:36.5px;transform:scaleX(1.1255);-webkit-text-stroke:0.3px #fff">meals</div>
<div class="t" style="left:1300.15px;top:1184.35px;font-size:36.5px;transform:scaleX(1.1016);-webkit-text-stroke:0.3px #fff">Consistency</div>
<div class="t" style="left:1300.15px;top:1231.35px;font-size:36.5px;transform:scaleX(1.1218);-webkit-text-stroke:0.3px #fff">across locations</div>
<div class="t" style="left:1300.15px;top:1278.35px;font-size:36.5px;transform:scaleX(1.1404);-webkit-text-stroke:0.3px #fff">Drive-thru and</div>
<div class="t" style="left:1300.15px;top:1324.95px;font-size:36.5px;transform:scaleX(1.0933);-webkit-text-stroke:0.3px #fff">delivery services</div>
<div class="t b" style="left:1802.99px;top:961.95px;font-size:37.2px;transform:scaleX(1.0597);-webkit-text-stroke:1.1px #fff">Key</div>
<div class="t b" style="left:1802.99px;top:1002.55px;font-size:37.2px;transform:scaleX(1.0928);-webkit-text-stroke:1.1px #fff">Partnerships</div>
<div class="t" style="left:1742.07px;top:1085.75px;font-size:36.5px;transform:scaleX(1.0810);-webkit-text-stroke:0.3px #fff">Franchisees</div>
<div class="t" style="left:1742.07px;top:1131.85px;font-size:36.5px;transform:scaleX(1.0851);-webkit-text-stroke:0.3px #fff">Suppliers</div>
<div class="t" style="left:1742.07px;top:1178.85px;font-size:36.5px;transform:scaleX(1.1286);-webkit-text-stroke:0.3px #fff">Tech partners</div>
<div class="t" style="left:1742.07px;top:1225.45px;font-size:36.5px;transform:scaleX(1.0872);-webkit-text-stroke:0.3px #fff">(CRM systems)</div>
<div class="t" style="left:1742.07px;top:1272.45px;font-size:36.5px;transform:scaleX(1.1197);-webkit-text-stroke:0.3px #fff">Advertising</div>
<div class="t" style="left:1742.07px;top:1318.55px;font-size:36.5px;transform:scaleX(1.1403);-webkit-text-stroke:0.3px #fff">partners</div>
<div class="t" style="left:1742.07px;top:1366.05px;font-size:36.5px;transform:scaleX(1.1181);-webkit-text-stroke:0.3px #fff">Delivery platforms</div>
</div>
</div>
</body></html>
